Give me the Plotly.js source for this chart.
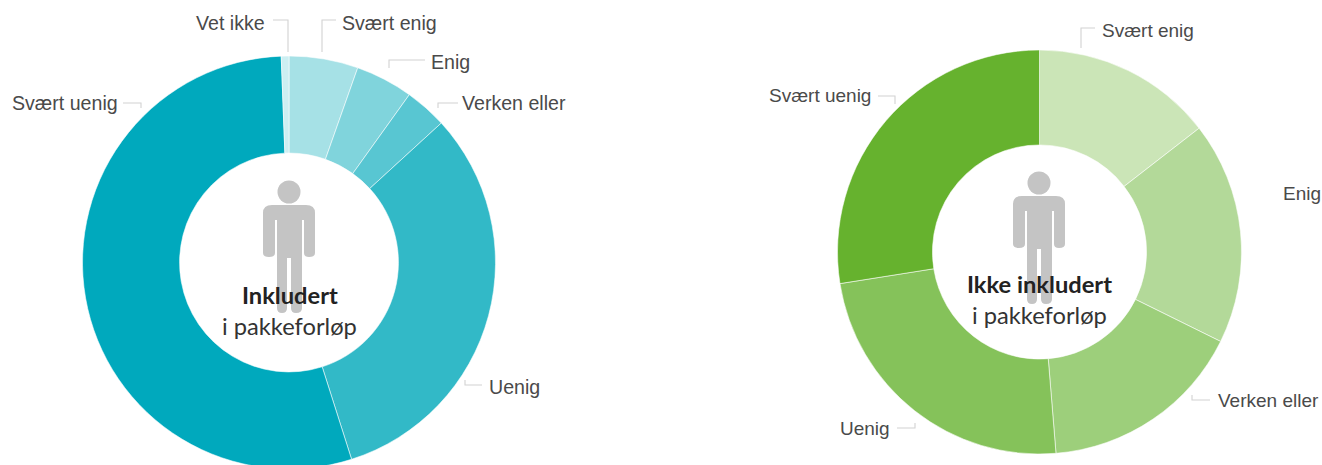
<!DOCTYPE html>
<html><head><meta charset="utf-8">
<script src="https://cdn.plot.ly/plotly-3.0.1.min.js"></script>
<style>html,body{margin:0;padding:0;background:#fff;overflow:hidden}#c{width:1322px;height:480px}</style>
</head><body><div id="c"></div>
<script>
const categoriesLeft = ["Svært enig","Enig","Verken eller","Uenig","Svært uenig","Vet ikke"];
const valuesLeft = [5.4,4.5,3.3,31.9,54.3,0.6];
const colorsLeft = ["#A6E1E6","#80D4DC","#58C6D2","#32B9C7","#00A9BD","#CDEFF2"];
const categoriesRight = ["Svært enig","Enig","Verken eller","Uenig","Svært uenig"];
const valuesRight = [14.5,17.8,16.4,23.8,27.5];
const colorsRight = ["#CBE5B7","#B3D999","#9DCF7B","#85C25A","#66B22E"];

const W = 1322, H = 480;
const px = x => x / W, py = y => 1 - y / H;
const dom = (cx, cy, r) => ({x:[px(cx-r), px(cx+r)], y:[py(cy+r), py(cy-r)]});
const pie = (labels, values, colors, domain) => ({
  type:'pie', labels, values, sort:false, direction:'clockwise', rotation:0, hole:0.53,
  textinfo:'none', domain, marker:{colors, line:{color:'rgba(255,255,255,0.55)', width:1}}
});

const fontName = '"Liberation Sans",sans-serif';
const label = (text, x, y, anchor, size) => ({
  text, x:px(x), y:py(y), xref:'paper', yref:'paper', xanchor:anchor, yanchor:'middle',
  showarrow:false, font:{family:fontName, size:size || 19.6, color:'#4a4a4a'}
});
const centre = (text, x, y, bold) => ({
  text: bold ? '<b>'+text+'</b>' : text, x:px(x), y:py(y), xref:'paper', yref:'paper',
  xanchor:'center', yanchor:'middle', showarrow:false,
  font:{family:'Lato,"Open Sans",sans-serif', size:23.7, color: bold ? '#222222' : '#333333'}
});

const leader = pts => ({
  type:'path', xref:'paper', yref:'paper', layer:'below',
  path: pts.map((p,i)=>(i?'L':'M')+px(p[0])+','+py(p[1])).join(' '),
  line:{color:'#d2d2d2', width:1.1}
});

function person(cx, dy){
  const P = (x,y)=>px(cx+x)+','+py(y+dy);
  const body = [
    'M',P(-17,205),'L',P(17,205),'Q',P(26,205),P(26,213),
    'L',P(26,253),'Q',P(26,257),P(20,257),'Q',P(15,257),P(15,253),
    'L',P(15,220),'L',P(13,220),'L',P(13,308),'Q',P(13,313),P(7,313),'Q',P(2,313),P(2,308),
    'L',P(2,258),'L',P(-2,258),'L',P(-2,308),'Q',P(-2,313),P(-7,313),'Q',P(-12,313),P(-12,308),
    'L',P(-12,220),'L',P(-14,220),'L',P(-14,253),'Q',P(-14,257),P(-20,257),'Q',P(-26,257),P(-26,253),
    'L',P(-26,213),'Q',P(-26,205),P(-17,205),'Z'
  ].join(' ');
  return [
    {type:'path', xref:'paper', yref:'paper', layer:'above', path:body, fillcolor:'#c4c4c4', line:{width:0}},
    {type:'circle', xref:'paper', yref:'paper', layer:'above', x0:px(cx-11.5), x1:px(cx+11.5),
     y0:py(192+dy+11.5), y1:py(192+dy-11.5), fillcolor:'#c4c4c4', line:{width:0}}
  ];
}

const annotations = [
  label("Vet ikke",267,23,'right'), label("Svært enig",340,23,'left'), label("Enig",429,62,'left'),
  label("Verken eller",460,103,'left'), label("Svært uenig",120,103,'right'), label("Uenig",487,387,'left'),
  label("Svært enig",1100,31,'left',19), label("Svært uenig",873,96,'right',19), label("Enig",1323,193,'right',19),
  label("Verken eller",1216,400,'left',19), label("Uenig",892,428,'right',19),
  centre("Inkludert",289.5,295,true), centre("i pakkeforløp",289.5,326,false),
  centre("Ikke inkludert",1039.5,284,true), centre("i pakkeforløp",1039.5,315,false)
];

const shapes = [
  leader([[273,20],[288,20],[288,52]]),
  leader([[336,20],[322,20],[322,52]]),
  leader([[425,60],[389,60],[389,68]]),
  leader([[458,103],[438,103],[438,108]]),
  leader([[123,103],[141,103],[141,108]]),
  leader([[465,380],[465,385],[482,385]]),
  leader([[1095,28],[1081,28],[1081,48]]),
  leader([[878,96],[895,96],[895,104]]),
  leader([[1210,400],[1192,400],[1192,395]]),
  leader([[897,428],[915,428],[915,423]]),
  ...person(289,0), ...person(1039,-9)
];

Plotly.newPlot('c', [
  pie(categoriesLeft, valuesLeft, colorsLeft, dom(289,262.5,206.5)),
  pie(categoriesRight, valuesRight, colorsRight, dom(1039.5,252,202))
], {
  width:W, height:H, margin:{l:0,r:0,t:0,b:0}, showlegend:false,
  paper_bgcolor:'#ffffff', annotations, shapes
}, {displayModeBar:false, staticPlot:true});
</script></body></html>
